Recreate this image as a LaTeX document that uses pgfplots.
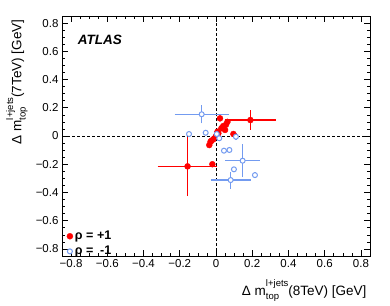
\documentclass[border=0pt]{standalone}
\usepackage{pgfplots}
\usepackage{pgfplotstable}
\pgfplotsset{compat=1.18}
\usepackage{fontspec}
\setmainfont{Liberation Sans}
\definecolor{rootred}{RGB}{255,0,0}
\definecolor{rootblue}{RGB}{115,155,240}
\newcommand{\mtop}{Δ m\rlap{\raisebox{-0.32em}{\fontsize{9.5}{10}\selectfont top}}\raisebox{0.62em}{\fontsize{9.5}{10}\selectfont l+jets}}

\pgfplotstableread{
x y
0.19 0.113
-0.157 -0.215
-0.02 -0.20
0.022 0.125
0.063 0.10
0.055 0.08
0.04 0.07
0.03 0.055
0.05 0.043
0.096 0.014
0.013 0.019
0.008 0.03
-0.002 -0.005
-0.015 -0.023
-0.024 -0.033
-0.03 -0.04
-0.037 -0.064
}\redtab

\pgfplotstableread{
x y
-0.079 0.154
-0.149 0.014
-0.057 0.023
0.004 0.014
0.018 -0.016
0.11 -0.005
0.044 -0.104
0.074 -0.099
0.147 -0.175
0.099 -0.236
0.081 -0.312
0.215 -0.277
}\bluetab

\begin{document}
\begin{tikzpicture}
\begin{axis}[
  scale only axis, width=308pt, height=240pt,
  xmin=-0.85, xmax=0.85, ymin=-0.85, ymax=0.85,
  xtick={-0.8,-0.6,-0.4,-0.2,0,0.2,0.4,0.6,0.8},
  ytick={-0.8,-0.6,-0.4,-0.2,0,0.2,0.4,0.6,0.8},
  xticklabels={−0.8,−0.6,−0.4,−0.2,0,0.2,0.4,0.6,0.8},
  yticklabels={−0.8,−0.6,−0.4,−0.2,0,0.2,0.4,0.6,0.8},
  minor x tick num=3, minor y tick num=3,
  tick align=inside, tick pos=both,
  major tick length=6pt, minor tick length=3pt,
  tick style={black, line width=0.6pt},
  axis line style={line width=0.8pt},
  ticklabel style={font=\fontsize{11.5}{13}\selectfont},
  xlabel={\mtop(8TeV) [GeV]},
  ylabel={\mtop(7TeV) [GeV]},
  label style={font=\fontsize{13.5}{15}\selectfont},
  xlabel style={at={(axis description cs:1,-0.085)}, anchor=north east},
  ylabel style={at={(axis description cs:-0.1,1)}, anchor=south east},
  legend style={at={(axis description cs:0.012,-0.015)}, anchor=south west,
    draw=none, fill=none, font=\bfseries\fontsize{12.5}{13}\selectfont,
    row sep=1pt, inner sep=1pt},
  legend cell align=left,
  unbounded coords=jump,
]
\addplot[black, densely dashed, line width=0.7pt, forget plot] coordinates {(0,-0.85) (0,0.85)};
\addplot[black, densely dashed, line width=0.7pt, forget plot] coordinates {(-0.85,0) (0.85,0)};

% red error bars
\addplot[rootred, line width=1.5pt, forget plot] coordinates {
 (0.05,0.113) (0.33,0.113) (nan,nan)
 (0.19,0.043) (0.19,0.183) (nan,nan)
 (-0.322,-0.215) (0.008,-0.215) (nan,nan)
 (-0.157,-0.425) (-0.157,-0.005)
};
% blue error bars
\addplot[rootblue, line width=1.5pt, forget plot] coordinates {
 (-0.229,0.154) (0.071,0.154) (nan,nan)
 (-0.079,0.089) (-0.079,0.219) (nan,nan)
 (0.11,-0.03) (0.11,0.02) (nan,nan)
 (0.074,-0.119) (0.074,-0.079) (nan,nan)
 (0.05,-0.175) (0.244,-0.175) (nan,nan)
 (0.147,-0.292) (0.147,-0.058) (nan,nan)
 (-0.029,-0.312) (0.191,-0.312) (nan,nan)
 (0.081,-0.372) (0.081,-0.252) (nan,nan)
 (0.215,-0.297) (0.215,-0.257)
};

\addplot[rootred, only marks, mark=*, mark size=3pt]
  table[x=x, y=y] {\redtab};
\addlegendentry{ρ = \makebox[0.6em][r]{+}1}

\addplot[rootblue, only marks, mark=*, mark size=2.5pt,
  mark options={fill=white, draw=rootblue, line width=1pt}]
  table[x=x, y=y] {\bluetab};
\addlegendentry{ρ = \makebox[0.6em][r]{-}1}

\node[anchor=west, font=\bfseries\itshape\fontsize{13.5}{15}\selectfont] at (axis description cs:0.04,0.9) {ATLAS};
\end{axis}
\pgfresetboundingbox
\path ([shift={(-62pt,-49pt)}]current axis.south west) rectangle ([shift={(20pt,16pt)}]current axis.north east);
\end{tikzpicture}
\end{document}
